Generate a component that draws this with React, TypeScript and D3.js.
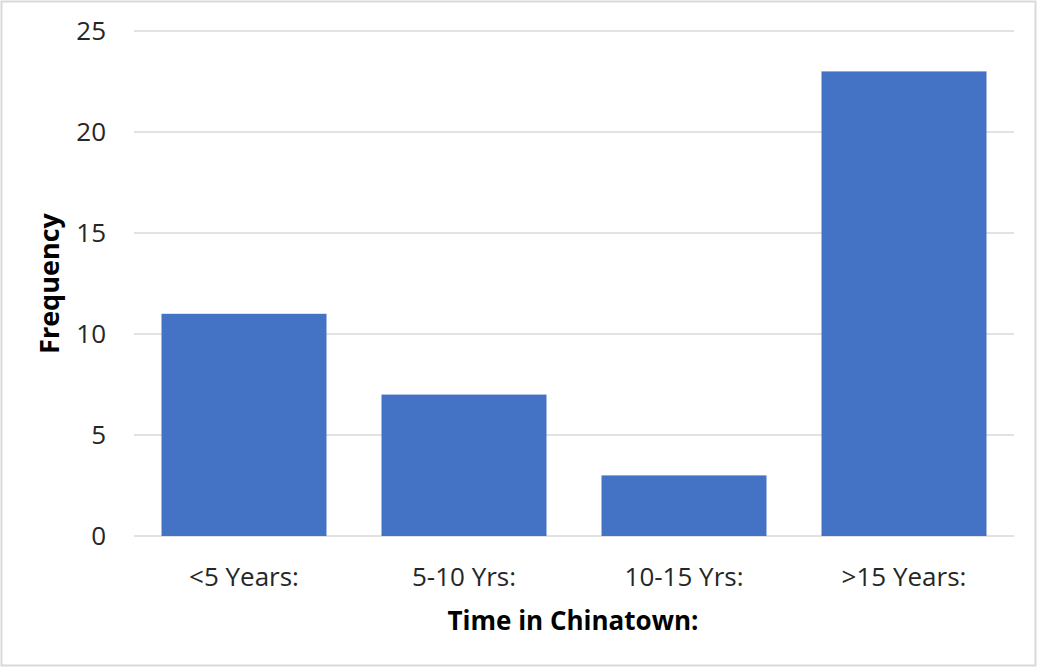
import React from "react";
import * as d3 from "d3";

const categories = ["<5 Years:", "5-10 Yrs:", "10-15 Yrs:", ">15 Years:"];
const frequencies = [11, 7, 3, 23];
const yTicks = [0, 5, 10, 15, 20, 25];
const xTitle = "Time in Chinatown:";
const yTitle = "Frequency";

const W = 1037;
const H = 667;
const margin = { left: 134, right: 23, top: 31, bottom: 131 };
const FONT = "'Open Sans', 'Noto Sans', sans-serif";

export default function App() {
  const x = d3
    .scaleBand<string>()
    .domain(categories)
    .range([margin.left, W - margin.right])
    .paddingInner(0.25)
    .paddingOuter(0.125);
  const y = d3.scaleLinear().domain([0, 25]).range([H - margin.bottom, margin.top]);

  return (
    <svg
      width={W}
      height={H}
      style={{ position: "absolute", left: 0, top: 0 }}
      fontFamily={FONT}
    >
      <rect x={0} y={0} width={W} height={H} fill="#fff" />
      <rect x={1.5} y={1.5} width={W - 3} height={H - 3} fill="none" stroke="#d9d9d9" strokeWidth={2} />
      {yTicks.map((t) => (
        <g key={t}>
          <line
            x1={margin.left}
            x2={W - margin.right}
            y1={y(t)}
            y2={y(t)}
            stroke="#d9d9d9"
            strokeWidth={1.5}
          />
          <text
            x={106}
            y={y(t)}
            dy="0.36em"
            textAnchor="end"
            fontSize={26}
            fill="#262626"
          >
            {t}
          </text>
        </g>
      ))}
      {categories.map((c, i) => (
        <rect
          key={c}
          x={x(c)}
          y={y(frequencies[i])}
          width={x.bandwidth()}
          height={y(0) - y(frequencies[i])}
          fill="#4472c4"
        />
      ))}
      {categories.map((c) => (
        <text
          key={c}
          x={(x(c) as number) + x.bandwidth() / 2}
          y={586}
          textAnchor="middle"
          fontSize={26}
          fill="#262626"
        >
          {c}
        </text>
      ))}
      <text
        x={(margin.left + W - margin.right) / 2 - 1}
        y={630}
        textAnchor="middle"
        fontSize={26}
        fontWeight="bold"
        fill="#000"
      >
        {xTitle}
      </text>
      <text
        transform={`translate(59, ${(y(0) + y(25)) / 2}) rotate(-90)`}
        textAnchor="middle"
        fontSize={27}
        fontWeight="bold"
        fill="#000"
      >
        {yTitle}
      </text>
    </svg>
  );
}
